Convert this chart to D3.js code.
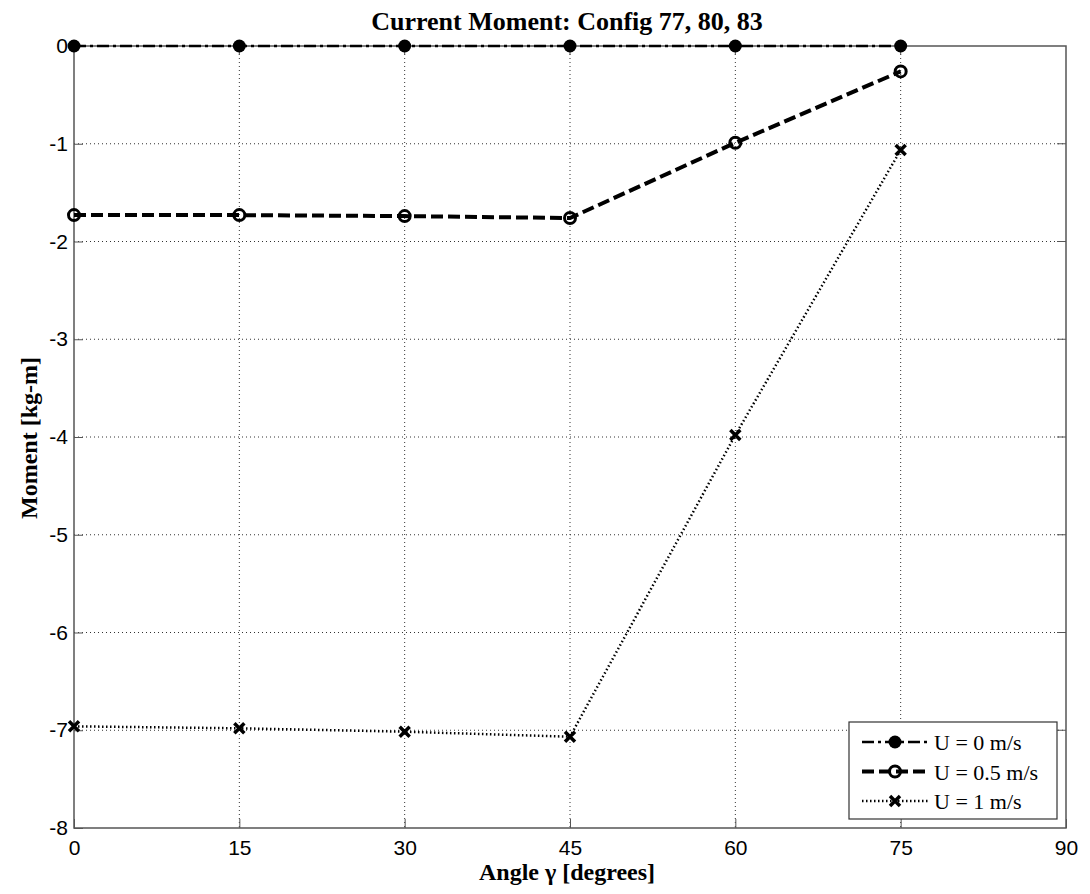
<!DOCTYPE html>
<html>
<head>
<meta charset="utf-8">
<script src="https://cdn.jsdelivr.net/npm/d3@7"></script>
<style>
  body { margin: 0; background: #fff; }
</style>
</head>
<body>
<div id="chart"></div>
<script>
// data
var angles = [0, 15, 30, 45, 60, 75];
var moment0 = [0, 0, 0, 0, 0, 0];
var moment05 = [-1.73, -1.73, -1.74, -1.76, -0.99, -0.26];
var moment1 = [-6.96, -6.98, -7.015, -7.066, -3.98, -1.065];
var seriesNames = ["U = 0 m/s", "U = 0.5 m/s", "U = 1 m/s"];
var xTicks = [0, 15, 30, 45, 60, 75, 90];
var yTicks = [0, -1, -2, -3, -4, -5, -6, -7, -8];

var totalWidth = 1090, totalHeight = 894;
var margin = {top: 46, right: 24, bottom: 66, left: 74},
  innerWidth = totalWidth - margin.left - margin.right,
  innerHeight = totalHeight - margin.top - margin.bottom;

var svg = d3.select("#chart").append("svg")
    .attr("width", totalWidth)
    .attr("height", totalHeight);

var chart = svg.append("g")
    .attr("transform", "translate(" + margin.left + "," + margin.top + ")");

var xScale = d3.scaleLinear().domain([0, 90]).range([0, innerWidth]);
var yScale = d3.scaleLinear().domain([-8, 0]).range([innerHeight, 0]);

// grid lines (dotted)
chart.append("g").selectAll("line.gx")
    .data(xTicks.slice(1, -1))
  .enter().append("line")
    .attr("x1", function(d) { return xScale(d); })
    .attr("x2", function(d) { return xScale(d); })
    .attr("y1", 0).attr("y2", innerHeight)
    .attr("stroke", "#333").attr("stroke-width", 1)
    .attr("stroke-dasharray", "1,3");

chart.append("g").selectAll("line.gy")
    .data(yTicks.slice(1, -1))
  .enter().append("line")
    .attr("x1", 0).attr("x2", innerWidth)
    .attr("y1", function(d) { return yScale(d); })
    .attr("y2", function(d) { return yScale(d); })
    .attr("stroke", "#333").attr("stroke-width", 1)
    .attr("stroke-dasharray", "1,3");

function hyphen(d) { return String(d); }

function styleAxis(g) {
  g.select(".domain").remove();
  g.attr("font-family", "Liberation Sans, Arial, sans-serif").attr("font-size", 21);
  g.selectAll("line").attr("stroke", "#555");
  g.selectAll("text").attr("fill", "#000")
    .attr("font-family", "Liberation Sans, Arial, sans-serif").attr("font-size", 21);
}

// axes, ticks pointing inward
chart.append("g")
    .attr("transform", "translate(0," + innerHeight + ")")
    .call(d3.axisBottom(xScale).tickValues(xTicks).tickSizeInner(-9).tickSizeOuter(0).tickPadding(12))
    .call(styleAxis);

chart.append("g")
    .call(d3.axisLeft(yScale).tickValues(yTicks).tickSizeInner(-9).tickSizeOuter(0).tickPadding(6)
      .tickFormat(hyphen))
    .call(styleAxis);

// inward tick marks on top and right edges
chart.append("g").selectAll("line")
    .data(xTicks.slice(1, -1))
  .enter().append("line")
    .attr("x1", function(d) { return xScale(d); })
    .attr("x2", function(d) { return xScale(d); })
    .attr("y1", 0).attr("y2", 9)
    .attr("stroke", "#555");

chart.append("g").selectAll("line")
    .data(yTicks.slice(1, -1))
  .enter().append("line")
    .attr("x1", innerWidth - 9).attr("x2", innerWidth)
    .attr("y1", function(d) { return yScale(d); })
    .attr("y2", function(d) { return yScale(d); })
    .attr("stroke", "#555");

chart.append("rect")
    .attr("width", innerWidth).attr("height", innerHeight)
    .attr("fill", "none").attr("stroke", "#555").attr("stroke-width", 1.5);

var line = d3.line()
    .x(function(d) { return xScale(d.x); })
    .y(function(d) { return yScale(d.y); });

function toPoints(vals) {
  return vals.map(function(v, i) { return {x: angles[i], y: v}; });
}

var styles = [
  {dash: "12,4,3,4", width: 2.5, marker: "dot"},
  {dash: "12,5", width: 4, marker: "circle"},
  {dash: "1.5,2.5", width: 2.5, marker: "cross"}
];
var allSeries = [moment0, moment05, moment1];

function drawMarker(g, type, cx, cy) {
  if (type === "dot") {
    g.append("circle").attr("cx", cx).attr("cy", cy).attr("r", 6.5).attr("fill", "#000");
  } else if (type === "circle") {
    g.append("circle").attr("cx", cx).attr("cy", cy).attr("r", 5.5)
      .attr("fill", "none").attr("stroke", "#000").attr("stroke-width", 3);
  } else {
    var s = 5;
    g.append("path")
      .attr("d", "M" + (cx - s) + "," + (cy - s) + "L" + (cx + s) + "," + (cy + s) +
                 "M" + (cx - s) + "," + (cy + s) + "L" + (cx + s) + "," + (cy - s))
      .attr("stroke", "#000").attr("stroke-width", 3.5);
  }
}

allSeries.forEach(function(vals, k) {
  var pts = toPoints(vals);
  chart.append("path")
    .datum(pts)
    .attr("fill", "none")
    .attr("stroke", "#000")
    .attr("stroke-width", styles[k].width)
    .attr("stroke-dasharray", styles[k].dash)
    .attr("d", line);
  var mg = chart.append("g");
  pts.forEach(function(p) { drawMarker(mg, styles[k].marker, xScale(p.x), yScale(p.y)); });
});

// title and axis labels
svg.append("text")
    .attr("x", 567).attr("y", 30)
    .attr("text-anchor", "middle")
    .attr("font-family", "Liberation Serif, Times New Roman, serif")
    .attr("font-weight", "bold").attr("font-size", 26)
    .text("Current Moment: Config 77, 80, 83");

svg.append("text")
    .attr("x", 567).attr("y", 880)
    .attr("text-anchor", "middle")
    .attr("font-family", "Liberation Serif, Times New Roman, serif")
    .attr("font-weight", "bold").attr("font-size", 24)
    .text("Angle γ [degrees]");

svg.append("text")
    .attr("transform", "translate(37,438) rotate(-90)")
    .attr("text-anchor", "middle")
    .attr("font-family", "Liberation Serif, Times New Roman, serif")
    .attr("font-weight", "bold").attr("font-size", 24)
    .text("Moment [kg-m]");

// legend
var legend = svg.append("g").attr("transform", "translate(849,722)");
legend.append("rect")
    .attr("width", 208).attr("height", 97)
    .attr("fill", "#fff").attr("stroke", "#333").attr("stroke-width", 1.2);

seriesNames.forEach(function(name, k) {
  var cy = 20 + k * 29.5;
  legend.append("line")
    .attr("x1", 13).attr("x2", 79).attr("y1", cy).attr("y2", cy)
    .attr("stroke", "#000").attr("stroke-width", styles[k].width)
    .attr("stroke-dasharray", styles[k].dash);
  drawMarker(legend, styles[k].marker, 46, cy);
  legend.append("text")
    .attr("x", 85).attr("y", cy + 8)
    .attr("font-family", "Liberation Serif, Times New Roman, serif")
    .attr("font-size", 22)
    .text(name);
});
</script>
</body>
</html>
